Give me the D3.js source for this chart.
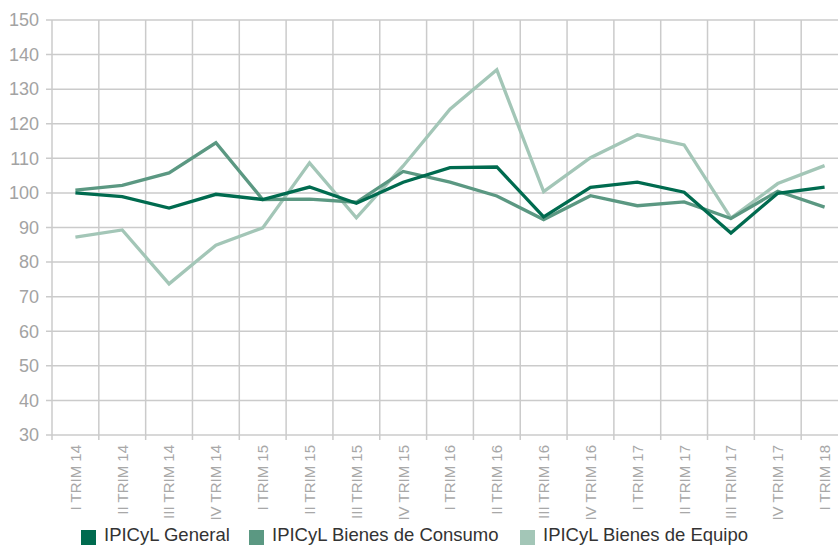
<!DOCTYPE html>
<html>
<head>
<meta charset="utf-8">
<script src="https://cdn.jsdelivr.net/npm/d3@7"></script>
<style>
    body { margin: 0; background: #ffffff; }
    svg { display: block; }
</style>
</head>
<body>
<svg id="chart"></svg>
<script>
const width = 838;
const height = 545;

const quarters = ["I TRIM 14", "II TRIM 14", "III TRIM 14", "IV TRIM 14",
    "I TRIM 15", "II TRIM 15", "III TRIM 15", "IV TRIM 15",
    "I TRIM 16", "II TRIM 16", "III TRIM 16", "IV TRIM 16",
    "I TRIM 17", "II TRIM 17", "III TRIM 17", "IV TRIM 17", "I TRIM 18"];
const general = [100.0, 98.9, 95.6, 99.6, 98.1, 101.7, 97.0, 103.1, 107.3, 107.5, 93.1, 101.6, 103.1, 100.2, 88.4, 99.9, 101.7];
const consumo = [100.8, 102.2, 105.8, 114.5, 98.1, 98.2, 97.3, 106.2, 103.1, 99.1, 92.3, 99.2, 96.3, 97.4, 92.6, 100.5, 95.9];
const equipo = [87.2, 89.3, 73.7, 84.9, 89.9, 108.7, 92.8, 107.8, 124.2, 135.6, 100.4, 110.2, 116.8, 113.9, 92.7, 102.7, 107.9];
const yTicks = [30, 40, 50, 60, 70, 80, 90, 100, 110, 120, 130, 140, 150];

const seriesNames = ["IPICyL General", "IPICyL Bienes de Consumo", "IPICyL Bienes de Equipo"];
const seriesColors = ["#006b4f", "#5b9882", "#a3c6b7"];

const gridColor = "#cbcbcb";
const font = "Liberation Sans, Arial, Helvetica, sans-serif";

const x = d3.scaleBand().domain(quarters).range([52, 848]);
const y = d3.scaleLinear().domain([30, 150]).range([435, 20]);

const svg = d3.select("#chart")
    .attr("width", width)
    .attr("height", height);

// horizontal grid
svg.append("g")
    .selectAll("line")
    .data(yTicks).enter().append("line")
    .attr("x1", 46)
    .attr("x2", width)
    .attr("y1", d => y(d))
    .attr("y2", d => y(d))
    .attr("stroke", gridColor)
    .attr("stroke-width", 1.5);

// vertical grid at category boundaries
svg.append("g")
    .selectAll("line")
    .data(quarters).enter().append("line")
    .attr("x1", d => x(d))
    .attr("x2", d => x(d))
    .attr("y1", y(150))
    .attr("y2", y(30) + 5)
    .attr("stroke", gridColor)
    .attr("stroke-width", 1.5);

// y labels
svg.append("g")
    .selectAll("text")
    .data(yTicks).enter().append("text")
    .attr("x", 39)
    .attr("y", d => y(d))
    .attr("dy", "0.35em")
    .attr("text-anchor", "end")
    .attr("font-family", font)
    .attr("font-size", "18px")
    .attr("fill", "#a3a3a3")
    .text(d => d);

// x labels, rotated
svg.append("g")
    .selectAll("text")
    .data(quarters).enter().append("text")
    .attr("transform", d => "translate(" + (x(d) + x.bandwidth() / 2) + "," + 445 + ") rotate(-90)")
    .attr("dy", "0.36em")
    .attr("text-anchor", "end")
    .attr("font-family", font)
    .attr("font-size", "15px")
    .attr("fill", "#a8a8a8")
    .text(d => d);

const line = d3.line()
    .x((d, i) => x(quarters[i]) + x.bandwidth() / 2)
    .y(d => y(d));

// lightest first so the general index sits on top
const allSeries = [general, consumo, equipo];
[2, 1, 0].forEach(k => {
    svg.append("path")
        .datum(allSeries[k])
        .attr("fill", "none")
        .attr("stroke", seriesColors[k])
        .attr("stroke-width", 3.3)
        .attr("stroke-linejoin", "miter")
        .attr("d", line);
});

// legend
const legendX = [81, 249, 520];
const legend = svg.append("g");

legend.selectAll("rect")
    .data(seriesNames).enter().append("rect")
    .attr("x", (d, i) => legendX[i])
    .attr("y", 530)
    .attr("width", 15)
    .attr("height", 15)
    .attr("fill", (d, i) => seriesColors[i]);

legend.selectAll("text")
    .data(seriesNames).enter().append("text")
    .attr("x", (d, i) => legendX[i] + 23)
    .attr("y", 541)
    .attr("font-family", font)
    .attr("font-size", "18.5px")
    .attr("fill", "#333333")
    .text(d => d);
</script>
</body>
</html>
